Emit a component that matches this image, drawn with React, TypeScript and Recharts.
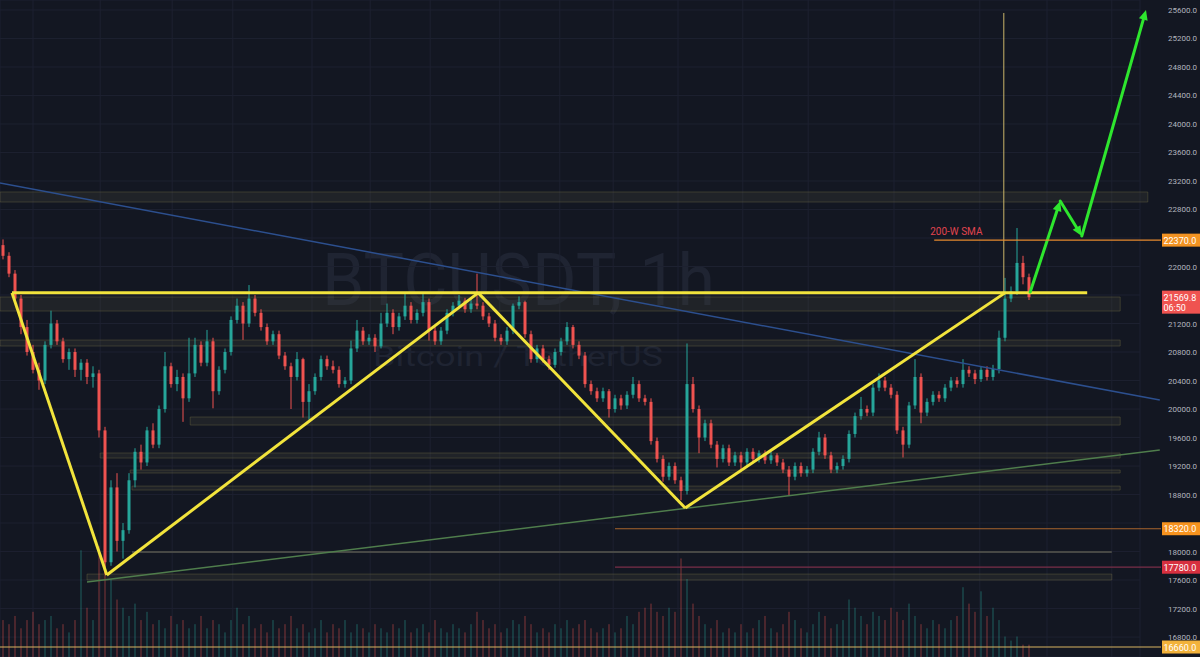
import React from 'react';
import { ComposedChart, Bar, XAxis, YAxis, CartesianGrid, ReferenceLine, ReferenceArea } from 'recharts';

// BTCUSDT 1h candles, one entry per slot: [open, high, low, close]
const candles: [number, number, number, number][] = [
  [22300, 22380, 22100, 22150], [22150, 22200, 21850, 21900], [21900, 21950, 21500, 21550], [21550, 21600, 21050, 21150],
  [21150, 21250, 20750, 20800], [20800, 20900, 20500, 20550], [20550, 20650, 20270, 20400], [20400, 20950, 20350, 20900],
  [20900, 21380, 20850, 21200], [21200, 21250, 20900, 20950], [20950, 21000, 20650, 20700], [20700, 20850, 20550, 20800],
  [20800, 20850, 20450, 20550], [20550, 20700, 20400, 20650], [20650, 20700, 20350, 20450], [20450, 20600, 20300, 20500],
  [20500, 20550, 19600, 19700], [19700, 19750, 17690, 17850], [17850, 19000, 17800, 18900], [18900, 19100, 18000, 18150],
  [18150, 18400, 17900, 18300], [18300, 19100, 18250, 19000], [19000, 19450, 18900, 19400], [19400, 19500, 19150, 19250],
  [19250, 19750, 19200, 19700], [19700, 19800, 19450, 19500], [19500, 20050, 19450, 20000], [20000, 20800, 19950, 20600],
  [20600, 20650, 20300, 20350], [20350, 20550, 20250, 20450], [20450, 20500, 19820, 20150], [20150, 21000, 20100, 20500],
  [20500, 21000, 20450, 20900], [20900, 20950, 20600, 20650], [20650, 21110, 20600, 20950], [20950, 21000, 20010, 20250],
  [20250, 20600, 20200, 20550], [20550, 20850, 20500, 20800], [20800, 21300, 20750, 21250], [21250, 21550, 21200, 21450],
  [21450, 21500, 20970, 21200], [21200, 21740, 21150, 21550], [21550, 21600, 21300, 21350], [21350, 21400, 21100, 21150],
  [21150, 21200, 20900, 20950], [20950, 21100, 20900, 21050], [21050, 21100, 20700, 20750], [20750, 20800, 20550, 20600],
  [20600, 20650, 20000, 20450], [20450, 20800, 20400, 20700], [20700, 20720, 19880, 20100], [20100, 20350, 19850, 20250],
  [20250, 20500, 20200, 20450], [20450, 20750, 20400, 20700], [20700, 20750, 20550, 20600], [20600, 20680, 20500, 20550],
  [20550, 20600, 20300, 20350], [20350, 20450, 20300, 20400], [20400, 20960, 20350, 20850], [20850, 21250, 20800, 21100],
  [21100, 21150, 20900, 20950], [20950, 21050, 20900, 21000], [21000, 21050, 20800, 20880], [20880, 21350, 20850, 21200],
  [21200, 21480, 21150, 21350], [21350, 21400, 21050, 21150], [21150, 21350, 21100, 21300], [21300, 21620, 21250, 21450],
  [21450, 21500, 21200, 21250], [21250, 21400, 21200, 21350], [21350, 21620, 21300, 21500], [21500, 21550, 20960, 21100],
  [21100, 21150, 20900, 20950], [20950, 21150, 20900, 21100], [21100, 21400, 21050, 21350], [21350, 21500, 21300, 21450],
  [21450, 21600, 21400, 21520], [21520, 21560, 21350, 21400], [21400, 21550, 21350, 21480], [21480, 21900, 21400, 21450],
  [21450, 21500, 21250, 21300], [21300, 21350, 21150, 21200], [21200, 21250, 20950, 21000], [21000, 21050, 20900, 20950],
  [20950, 21150, 20900, 21100], [21100, 21480, 21050, 21450], [21450, 21580, 21400, 21500], [21500, 21520, 21000, 21050],
  [21050, 21100, 20650, 20700], [20700, 20900, 20650, 20850], [20850, 20900, 20650, 20700], [20700, 20750, 20550, 20620],
  [20620, 20850, 20580, 20800], [20800, 21000, 20750, 20950], [20950, 21220, 20900, 21150], [21150, 21180, 20850, 20900],
  [20900, 20950, 20700, 20750], [20750, 20800, 20300, 20350], [20350, 20400, 20200, 20250], [20250, 20300, 20100, 20150],
  [20150, 20300, 20100, 20250], [20250, 20280, 19880, 20000], [20000, 20200, 19950, 20150], [20150, 20200, 19990, 20050],
  [20050, 20250, 20000, 20200], [20200, 20450, 20150, 20350], [20350, 20400, 20100, 20150], [20150, 20200, 20050, 20100],
  [20100, 20150, 19500, 19550], [19550, 19600, 19250, 19300], [19300, 19350, 18980, 19050], [19050, 19250, 19000, 19200],
  [19200, 19250, 18950, 19000], [19000, 19050, 18720, 18850], [18850, 20920, 18800, 20350], [20350, 20450, 19950, 20000],
  [20000, 20050, 19380, 19600], [19600, 19850, 19550, 19800], [19800, 19850, 19450, 19500], [19500, 19550, 19180, 19300],
  [19300, 19500, 19250, 19450], [19450, 19500, 19200, 19250], [19250, 19400, 19200, 19350], [19350, 19400, 19150, 19250],
  [19250, 19450, 19200, 19400], [19400, 19450, 19250, 19300], [19300, 19420, 19250, 19380], [19380, 19420, 19230, 19280],
  [19280, 19400, 19230, 19350], [19350, 19380, 19200, 19250], [19250, 19300, 19100, 19150], [19150, 19200, 18790, 19050],
  [19050, 19250, 19000, 19200], [19200, 19250, 19050, 19100], [19100, 19200, 19050, 19150], [19150, 19450, 19100, 19400],
  [19400, 19680, 19350, 19600], [19600, 19650, 19300, 19350], [19350, 19400, 19100, 19150], [19150, 19250, 19100, 19200],
  [19200, 19350, 19150, 19300], [19300, 19700, 19250, 19650], [19650, 19950, 19600, 19900], [19900, 20170, 19850, 20000],
  [20000, 20050, 19900, 19950], [19950, 20350, 19900, 20300], [20300, 20500, 20250, 20400], [20400, 20450, 20250, 20300],
  [20300, 20350, 20150, 20200], [20200, 20250, 19650, 19700], [19700, 19750, 19320, 19500], [19500, 20100, 19450, 20050],
  [20050, 20700, 20000, 20450], [20450, 20500, 19800, 19950], [19950, 20150, 19900, 20100], [20100, 20250, 20050, 20200],
  [20200, 20250, 20100, 20150], [20150, 20350, 20100, 20300], [20300, 20450, 20250, 20400], [20400, 20450, 20300, 20350],
  [20350, 20700, 20300, 20550], [20550, 20600, 20450, 20500], [20500, 20550, 20350, 20420], [20420, 20600, 20380, 20550],
  [20550, 20600, 20400, 20450], [20450, 20620, 20400, 20560], [20560, 21100, 20500, 21000], [21000, 21840, 20950, 21550],
  [21550, 21720, 21500, 21650], [21650, 22540, 21600, 22050], [22050, 22150, 21750, 21850], [21850, 21900, 21530, 21570],
];

const volumes = [
  0.9, 0.8, 1.0, 0.7, 0.9, 1.1, 0.8, 0.9, 1.0, 0.7, 0.8, 0.6, 0.9, 2.6, 1.2, 0.9,
  2.7, 2.5, 1.9, 1.4, 1.2, 1.0, 1.3, 0.9, 1.1, 0.8, 0.9, 0.7, 1.0, 0.8, 0.9, 0.7,
  0.8, 1.0, 0.7, 0.9, 0.8, 0.6, 0.9, 1.2, 0.8, 1.0, 0.7, 0.8, 0.6, 0.9, 0.7, 0.8,
  1.0, 0.7, 0.8, 0.6, 0.7, 0.9, 0.6, 0.8, 0.7, 0.9, 0.6, 0.8, 0.7, 0.6, 0.8, 0.7,
  0.6, 0.8, 0.7, 0.9, 0.6, 0.7, 0.8, 0.6, 0.9, 0.7, 0.6, 0.8, 0.7, 0.6, 0.8, 1.1,
  0.9, 0.7, 0.8, 0.6, 0.7, 0.9, 0.8, 1.0, 0.8, 0.6, 0.7, 0.6, 0.8, 0.7, 0.9, 0.7,
  0.8, 0.9, 0.7, 0.6, 0.7, 0.8, 0.6, 0.7, 1.0, 0.8, 1.1, 1.2, 1.3, 1.1, 1.0, 1.2,
  1.1, 2.4, 1.9, 1.3, 1.0, 0.8, 0.7, 0.9, 0.6, 0.7, 0.6, 0.8, 0.6, 0.7, 0.9, 1.0,
  0.7, 0.6, 0.8, 1.1, 0.9, 0.7, 0.6, 0.8, 1.1, 1.0, 0.7, 0.8, 0.9, 1.4, 1.2, 1.0,
  0.8, 1.1, 1.0, 0.9, 1.2, 1.1, 0.9, 1.3, 1.0, 0.8, 0.7, 0.9, 0.8, 0.7, 0.9, 1.0,
  1.7, 1.3, 1.1, 1.6, 1.0, 1.2, 0.9, 0.5, 0.4, 0.5, 0.3, 0.3,
];

const priceTicks = [16800, 17200, 17600, 18000, 18400, 18800, 19200, 19600, 20000, 20400, 20800,
  21200, 21600, 22000, 22400, 22800, 23200, 23600, 24000, 24400, 24800, 25200, 25600];
const gridTimes = [5.5, 16.7, 28.7, 38.8, 52, 61.7, 71.7, 83.3, 93.3, 102.2, 113, 123.8, 134.7, 149, 163.3, 174.5, 185.3];

const lastPrice = 21569.8;
const lastPriceTimer = '06:50';

// drawings (time slot, price)
const neckline: [number, number][] = [[2, 21630], [181.2, 21630]];
const zigzag: [number, number][] = [[2, 21630], [17.8, 17670], [79.7, 21630], [114.2, 18610], [167.5, 21630]];
const blueTrend: [number, number][] = [[0, 23172], [193.3, 20126]];
const greenTrend: [number, number][] = [[14.5, 17572], [193.3, 19425]];
const spikeLine: [number, number][] = [[167.3, 25558], [167.3, 21630]];
const projection: [number, number][] = [[171.7, 21642], [176.7, 22919], [180.3, 22428], [191, 25600]];

const zones = [
  { from: 0, to: 191.3, low: 22905, high: 23046 },
  { from: 0, to: 186.7, low: 21375, high: 21572 },
  { from: 0, to: 186.7, low: 20884, high: 20968 },
  { from: 31.7, to: 186.7, low: 19775, high: 19888 },
  { from: 16.7, to: 186.7, low: 19312, high: 19383 },
  { from: 21.7, to: 186.7, low: 19102, high: 19144 },
  { from: 22, to: 186.7, low: 18863, high: 18919 },
  { from: 14.5, to: 185.3, low: 17600, high: 17684 },
];
const greyLevel = { from: 22, to: 185.3, price: 17993 };

const priceLevels = [
  { price: 22370, from: 155.7, line: '#e68a2e', tag: '#f39322', note: '200-W SMA' },
  { price: 18320, from: 102.5, line: '#a8652c', tag: '#f7931e', note: '' },
  { price: 17780, from: 102.5, line: '#7a2f48', tag: '#d7303f', note: '' },
  { price: 16660, from: 0, line: '#d8b460', tag: '#f2b23b', note: '' },
];

const UP = '#26a69a';
const DOWN = '#ef5350';
const BG = '#131722';
const FONT = 'Roboto, "Noto Sans", sans-serif';

const rows = candles.map(([open, high, low, close], i) => ({
  t: i + 0.5, open, high, low, close, volume: volumes[i],
}));

// axis labels hidden under a price tag
const tagPrices = [...priceLevels.map((l) => l.price), lastPrice];
const coveredTick = (v: number) => tagPrices.some((p) => Math.abs(p - v) < 100);

const AxisTick = (props: any) => {
  const { x, y, payload } = props;
  if (coveredTick(payload.value)) return <g />;
  return (
    <text x={x} y={y} dy={3} textAnchor="start" fontSize={8} fill="#b2b5be" fontFamily={FONT}>
      {payload.value.toFixed(1)}
    </text>
  );
};

const CandleShape = (props: any) => {
  const { x, y, width, height, payload } = props;
  if (!payload || x == null || y == null) return null;
  const { open, high, low, close } = payload;
  const top = Math.min(y, y + height);
  const full = Math.abs(height);
  const k = high > low ? full / (high - low) : 0;
  const yo = top + (high - open) * k;
  const yc = top + (high - close) * k;
  const cx = x + width / 2;
  const color = close >= open ? UP : DOWN;
  return (
    <g>
      <line x1={cx} x2={cx} y1={top} y2={top + full} stroke={color} strokeWidth={1} />
      <rect x={cx - 1.5} y={Math.min(yo, yc)} width={3} height={Math.max(1, Math.abs(yc - yo))} fill={color} />
    </g>
  );
};

const VolumeShape = (props: any) => {
  const { x, y, width, height, payload } = props;
  if (!payload || x == null) return null;
  const color = payload.close >= payload.open ? UP : DOWN;
  return <rect x={x + width / 2 - 1} y={y} width={2} height={Math.max(0, height)} fill={color} fillOpacity={0.25} />;
};

const ArrowShape = (props: any) => {
  const { x1, y1, x2, y2, stroke } = props;
  const ang = Math.atan2(y2 - y1, x2 - x1);
  const len = 10;
  const half = 4.5;
  const bx = x2 - len * Math.cos(ang);
  const by = y2 - len * Math.sin(ang);
  const px = -Math.sin(ang) * half;
  const py = Math.cos(ang) * half;
  return (
    <g>
      <line x1={x1} y1={y1} x2={bx} y2={by} stroke={stroke} strokeWidth={3} strokeLinecap="round" />
      <polygon points={`${x2},${y2} ${bx + px},${by + py} ${bx - px},${by - py}`} fill={stroke} />
    </g>
  );
};

const tagText = (v: number) => v.toFixed(1);

const LevelShape = (props: any) => {
  const { x1, y1, x2, y2, stroke, tagColor, note, label, sub } = props;
  return (
    <g>
      {stroke !== 'none' && <line x1={x1} y1={y1} x2={x2} y2={y2} stroke={stroke} strokeWidth={1.2} />}
      {note && (
        <text x={x1 - 4} y={y1 - 5} fontSize={10} fill="#e0444f" fontFamily={FONT}>{note}</text>
      )}
      <rect x={x2 + 1} y={y1 - 6.5} width={60} height={sub ? 23 : 13} fill={tagColor} />
      <text x={x2 + 2.5} y={y1 + 3.5} fontSize={9} fill="#ffffff" fontFamily={FONT}>{label}</text>
      {sub && <text x={x2 + 2.5} y={y1 + 14} fontSize={9} fill="#ffffff" fontFamily={FONT}>{sub}</text>}
    </g>
  );
};

const segments = (pts: [number, number][]) =>
  pts.slice(1).map((p, i) => [{ x: pts[i][0], y: pts[i][1] }, { x: p[0], y: p[1] }]);

export default function App() {
  return (
    <div style={{ position: 'fixed', left: 0, top: 0, width: 1200, height: 657, overflow: 'hidden', background: BG }}>
      <svg width={1200} height={657} style={{ position: 'absolute', left: 0, top: 0 }}>
        <text x={322} y={305} fontSize={72} fontFamily={FONT} fill="#1f2432" textLength={393} lengthAdjust="spacingAndGlyphs">
          BTCUSDT, 1h
        </text>
        <text x={373} y={366} fontSize={27} fontFamily={FONT} fill="#1f2432" textLength={290} lengthAdjust="spacingAndGlyphs">
          Bitcoin / TetherUS
        </text>
      </svg>
      <div style={{ position: 'absolute', left: 0, top: 0 }}>
        <ComposedChart width={1200} height={657} data={rows} margin={{ top: 0, right: 0, bottom: 0, left: 0 }}>
          <XAxis xAxisId="main" type="number" dataKey="t" domain={[0, 190]} ticks={gridTimes} allowDataOverflow hide />
          <XAxis xAxisId="vol" type="number" dataKey="t" domain={[0, 190]} allowDataOverflow hide />
          <YAxis
            yAxisId="price"
            orientation="right"
            type="number"
            domain={[16520, 25740]}
            ticks={priceTicks}
            width={60}
            axisLine={false}
            tickLine={false}
            tickSize={0}
            tickMargin={28}
            tick={AxisTick}
            allowDataOverflow
          />
          <YAxis yAxisId="vol" domain={[0, 16]} hide />
          <CartesianGrid xAxisId="main" yAxisId="price" stroke="#1d2130" strokeWidth={1} />

          {zones.map((z, i) => (
            <ReferenceArea
              key={`z${i}`}
              xAxisId="main"
              yAxisId="price"
              x1={z.from}
              x2={z.to}
              y1={z.low}
              y2={z.high}
              fill="#55553f"
              fillOpacity={0.2}
              stroke="#6e6a44"
              strokeOpacity={0.4}
              ifOverflow="visible"
            />
          ))}
          <ReferenceLine
            xAxisId="main"
            yAxisId="price"
            segment={[{ x: greyLevel.from, y: greyLevel.price }, { x: greyLevel.to, y: greyLevel.price }]}
            stroke="#474845"
            strokeWidth={2}
            ifOverflow="visible"
          />

          <Bar xAxisId="vol" yAxisId="vol" dataKey="volume" shape={VolumeShape} barSize={2} isAnimationActive={false} />
          <Bar
            xAxisId="main"
            yAxisId="price"
            dataKey={(d: any) => [d.low, d.high]}
            shape={CandleShape}
            barSize={4}
            isAnimationActive={false}
          />

          {segments(blueTrend).map((s, i) => (
            <ReferenceLine key={`b${i}`} xAxisId="main" yAxisId="price" segment={s} stroke="#2c4f8e" strokeWidth={1.5} ifOverflow="visible" />
          ))}
          {segments(greenTrend).map((s, i) => (
            <ReferenceLine key={`g${i}`} xAxisId="main" yAxisId="price" segment={s} stroke="#4f7d4c" strokeWidth={1.5} ifOverflow="visible" />
          ))}
          {segments(spikeLine).map((s, i) => (
            <ReferenceLine key={`s${i}`} xAxisId="main" yAxisId="price" segment={s} stroke="#c9b468" strokeWidth={1} ifOverflow="visible" />
          ))}
          {segments(neckline).map((s, i) => (
            <ReferenceLine key={`n${i}`} xAxisId="main" yAxisId="price" segment={s} stroke="#f2e43c" strokeWidth={3} ifOverflow="visible" />
          ))}
          {segments(zigzag).map((s, i) => (
            <ReferenceLine key={`y${i}`} xAxisId="main" yAxisId="price" segment={s} stroke="#f2e43c" strokeWidth={3} ifOverflow="visible" />
          ))}
          {segments(projection).map((s, i) => (
            <ReferenceLine
              key={`p${i}`}
              xAxisId="main"
              yAxisId="price"
              segment={s}
              stroke="#2ee62e"
              ifOverflow="visible"
              shape={(p: any) => <ArrowShape {...p} stroke="#2ee62e" />}
            />
          ))}

          {priceLevels.map((l, i) => (
            <ReferenceLine
              key={`l${i}`}
              xAxisId="main"
              yAxisId="price"
              segment={[{ x: l.from, y: l.price }, { x: 193.5, y: l.price }]}
              ifOverflow="visible"
              shape={(p: any) => (
                <LevelShape {...p} stroke={l.line} tagColor={l.tag} note={l.note} label={tagText(l.price)} />
              )}
            />
          ))}
          <ReferenceLine
            xAxisId="main"
            yAxisId="price"
            segment={[{ x: 193.4, y: lastPrice }, { x: 193.5, y: lastPrice }]}
            ifOverflow="visible"
            shape={(p: any) => (
              <LevelShape {...p} stroke="none" tagColor="#ef5350" label={tagText(lastPrice)} sub={lastPriceTimer} />
            )}
          />
        </ComposedChart>
      </div>
    </div>
  );
}
